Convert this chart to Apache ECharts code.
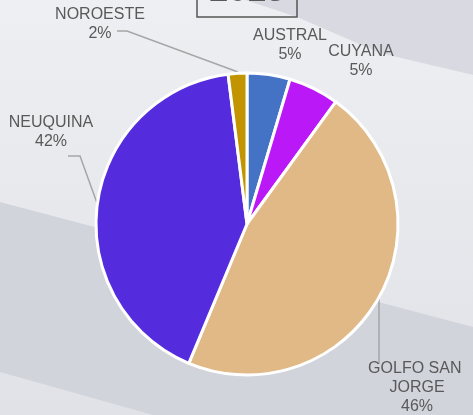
<!DOCTYPE html>
<html lang="es">
<head>
	<meta charset="UTF-8">
	<title>Cuencas 2015</title>
	<script src="https://cdn.jsdelivr.net/npm/echarts@6/dist/echarts.min.js"></script>
	<style>
		html, body { margin:0; padding:0; }
		#pieChart { width:473px; height:415px; }
	</style>
</head>
<body>
	<div id="pieChart"></div>
	<script>
	// datos
	var yearTitle = '2015';
	var cuencas = ['AUSTRAL', 'CUYANA', 'GOLFO SAN JORGE', 'NEUQUINA', 'NOROESTE'];
	var participacion = [4.6, 5.4, 46.3, 41.7, 2.0];

	var pieColor = ['#4472C4', '#BB18F8', '#E0B986', '#552BDE', '#C29400'];

	// posicion de etiquetas (centro del texto) y guias
	var labelPos = [
		{x: 290, y: 45},
		{x: 361, y: 61},
		{x: 417, y: 388},
		{x: 51, y: 132},
		{x: 100, y: 24}
	];
	var guide = [
		null,
		null,
		[[379, 298], [379, 330], [379, 364]],
		[[97, 203], [80, 156], [68, 156]],
		[[238, 72], [127, 31], [117, 31]]
	];

	var pieChart = echarts.init(document.getElementById('pieChart'), null, {renderer: 'canvas'});

	var pieData = cuencas.map(function(name, i){
		var item = {name: name, value: participacion[i]};
		if (!guide[i]) item.labelLine = {show: false};
		if (name == 'GOLFO SAN JORGE') item.label = {width: 100, overflow: 'break'};
		return item;
	});

	var option = {
		animation: false,
		graphic: [
			// fondo
			{
				type: 'rect', z: -10, silent: true,
				shape: {x: 0, y: 0, width: 473, height: 415},
				style: {fill: new echarts.graphic.LinearGradient(0, 0, 0, 1, [
					{offset: 0, color: '#eeeff2'},
					{offset: 1, color: '#e1e2e7'}
				])}
			},
			{
				type: 'polygon', z: -9, silent: true,
				shape: {points: [[245, 0], [297, 17], [380, 53], [473, 75], [473, 0]]},
				style: {fill: '#d9dae1'}
			},
			{
				type: 'polygon', z: -9, silent: true,
				shape: {points: [[0, 202], [473, 327], [473, 415], [153, 415], [0, 372]]},
				style: {fill: '#d2d4dc'}
			},
			// titulo
			{
				type: 'rect', z: 5, silent: true,
				shape: {x: 197, y: -40, width: 100, height: 57},
				style: {fill: 'transparent', stroke: '#555', lineWidth: 1.5}
			},
			{
				type: 'text', z: 6, silent: true,
				x: 247, y: 9,
				style: {
					text: yearTitle,
					fill: '#595959',
					font: 'bold 34px "Liberation Sans", Arial, sans-serif',
					align: 'center',
					verticalAlign: 'bottom'
				}
			}
		],
		series: [
			{
				type: 'pie',
				center: [247, 224],
				radius: 151,
				startAngle: 90,
				clockwise: true,
				avoidLabelOverlap: false,
				percentPrecision: 0,
				color: pieColor,
				itemStyle: {
					borderColor: '#ffffff',
					borderWidth: 3
				},
				label: {
					show: true,
					position: 'outside',
					formatter: '{b}\n{d}%',
					color: '#595959',
					fontFamily: '"Liberation Sans", Arial, sans-serif',
					fontSize: 16,
					lineHeight: 19,
					align: 'center'
				},
				labelLine: {
					show: true,
					lineStyle: {color: '#a6a6a6', width: 1.5}
				},
				labelLayout: function(params){
					var p = labelPos[params.dataIndex];
					var res = {x: p.x, y: p.y, align: 'center', verticalAlign: 'middle'};
					if (guide[params.dataIndex]) res.labelLinePoints = guide[params.dataIndex];
					return res;
				},
				emphasis: {disabled: true},
				data: pieData
			}
		]
	};
	pieChart.setOption(option);
	</script>
</body>
</html>
